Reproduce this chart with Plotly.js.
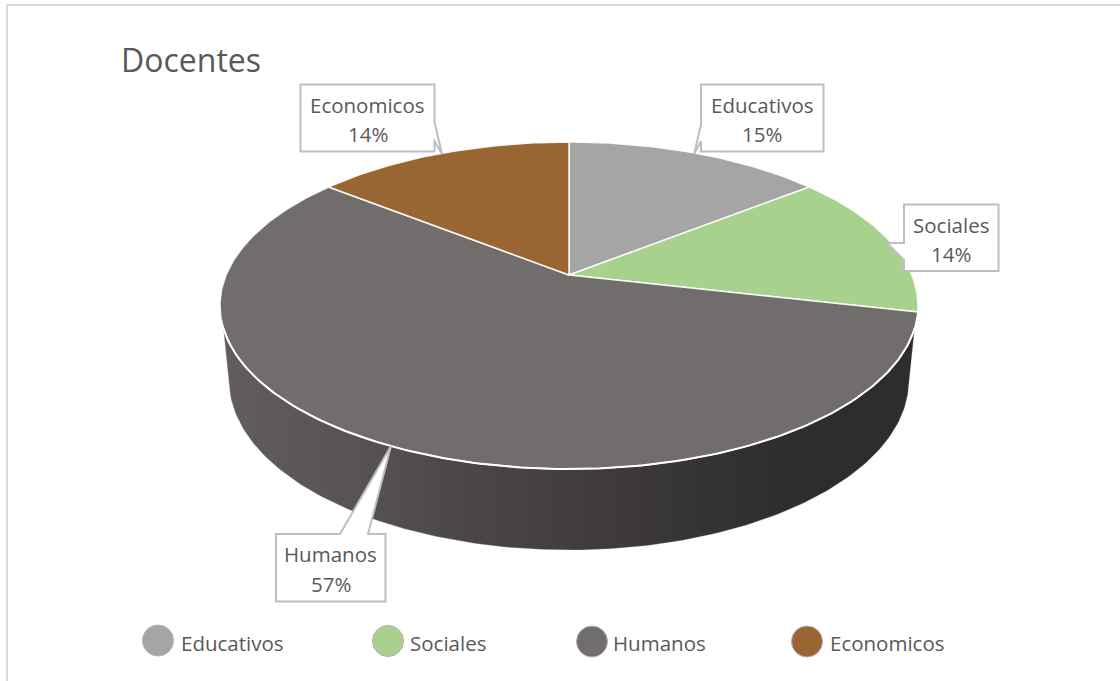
<!DOCTYPE html>
<html>
<head>
<meta charset="utf-8">
<script src="https://cdn.plot.ly/plotly-3.0.1.min.js"></script>
<style>html,body{margin:0;padding:0;background:#fff}#chart{width:1120px;height:681px}</style>
</head>
<body>
<div id="chart"></div>
<script>
// Data
const categories = ["Educativos", "Sociales", "Humanos", "Economicos"];
const values = [14.3, 14.3, 57.1, 14.3];
const percentLabels = ["15%", "14%", "57%", "14%"];
const sliceColors = ["#A5A5A5", "#A9D18E", "#716D6C", "#996633"];
const chartTitle = "Docentes";

// Layout: axes are in page pixels, y downwards
const FONT = "'Open Sans','Noto Sans',sans-serif";
const TEXT = "#595959";
const CX = 569, APEX_Y = 275;            // projected pie centre
const BACK = 133, FRONT = 194, HALF_W = 349; // projected radii of the top face
const PERSP = (FRONT - BACK) / (FRONT + BACK);
const AMP_Y = BACK * (1 + PERSP);
const AMP_X = HALF_W * Math.sqrt(1 - PERSP * PERSP);

function project(turn) {           // turn: share of the circle clockwise from 12 o'clock
  const a = turn * 2 * Math.PI, u = Math.sin(a), v = Math.cos(a), d = 1 + PERSP * v;
  return [CX + AMP_X * u / d, APEX_Y - AMP_Y * v / d];
}

// Side wall: from the top face rim down to the bottom rim
const TOP_CY = APEX_Y + (FRONT - BACK) / 2, TOP_RY = (FRONT + BACK) / 2;
const LOW_CY = 380, LOW_RY = 170, LOW_RX = 340;
function ell(cx, cy, rx, ry, deg) {
  const t = deg * Math.PI / 180;
  return [cx + rx * Math.cos(t), cy + ry * Math.sin(t)];
}
const wallX = [], wallY = [], rimX = [], rimY = [];
for (let d = 172; d >= 8; d -= 1) { const p = ell(CX, TOP_CY, HALF_W, TOP_RY, d); wallX.push(p[0]); wallY.push(p[1]); rimX.push(p[0]); rimY.push(p[1]); }
for (let d = 5; d <= 175; d += 1) { const p = ell(CX, LOW_CY, LOW_RX, LOW_RY, d); wallX.push(p[0]); wallY.push(p[1]); }
wallX.push(wallX[0]); wallY.push(wallY[0]);

const traces = [{
  type: "scatter", mode: "lines", x: wallX, y: wallY, fill: "toself",
  line: {color: "rgba(190,190,190,0.5)", width: 0.6},
  fillgradient: {type: "horizontal", colorscale: [
    [0, "#625D5C"], [0.2, "#585352"], [0.33, "#4B4847"], [0.52, "#403D3C"], [0.7, "#353232"], [0.83, "#2E2C2C"], [1, "#2E2C2C"]
  ]},
  hoverinfo: "skip", showlegend: false
}];

// Top-face slices, computed from the values
const total = values.reduce((a, b) => a + b, 0);
let acc = 0;
categories.forEach((name, i) => {
  const start = acc / total, end = (acc + values[i]) / total;
  const xs = [CX], ys = [APEX_Y];
  const steps = Math.max(8, Math.round((end - start) * 360));
  for (let s = 0; s <= steps; s++) {
    const p = project(start + (end - start) * s / steps);
    xs.push(p[0]); ys.push(p[1]);
  }
  xs.push(CX); ys.push(APEX_Y);
  traces.push({
    type: "scatter", mode: "lines", x: xs, y: ys, fill: "toself", fillcolor: sliceColors[i],
    line: {color: "rgba(255,255,255,0.9)", width: 1.5},
    name: name, text: percentLabels[i], hoverinfo: "name+text", showlegend: false
  });
  acc += values[i];
});

// White rim between top face and wall
traces.push({type: "scatter", mode: "lines", x: rimX, y: rimY, line: {color: "#FFFFFF", width: 2}, hoverinfo: "skip", showlegend: false});

// Legend swatches
const legendX = [158, 388, 592, 807];
const legendTextX = [181, 410, 613, 830];
const legendSize = [31, 31, 31, 31];
const legendY = [640.5, 641, 641.5, 641.5];
categories.forEach((name, i) => {
  traces.push({
    type: "scatter", mode: "markers", x: [legendX[i]], y: [legendY[i]], name: name,
    marker: {size: legendSize[i], color: sliceColors[i], line: {color: "#B0B0B0", width: 1}},
    hoverinfo: "name", showlegend: false
  });
});

// Callout boxes and their pointers
const box = [
  {l: 701, t: 84.5, r: 823.5, b: 151.5, ptr: "M701,125 L694,154 L701,141"},
  {l: 904, t: 204.5, r: 998.5, b: 271, ptr: "M904,243 L887,243 L904,260"},
  {l: 276, t: 534, r: 385.5, b: 601.5, ptr: "M340,534 L391,446 L368,534"},
  {l: 300.5, t: 84.5, r: 434.5, b: 151.5, ptr: "M434.5,122 L442,154 L434.5,141"}
];
const shapes = [
  {type: "line", xref: "x", yref: "y", x0: 7, y0: 5, x1: 1120, y1: 5, line: {color: "#D9D9D9", width: 2}, layer: "below"},
  {type: "line", xref: "x", yref: "y", x0: 7, y0: 5, x1: 7, y1: 681, line: {color: "#D9D9D9", width: 2}, layer: "below"}
];
const annotations = [];
box.forEach((b, i) => {
  const ptr = b.ptr.match(/[-\d.]+/g).map(Number);
  let path;
  if (i === 0) path = `M${b.l},${b.t} L${b.r},${b.t} L${b.r},${b.b} L${ptr[4]},${b.b} L${ptr[4]},${ptr[5]} L${ptr[2]},${ptr[3]} L${ptr[0]},${ptr[1]} Z`;
  if (i === 1) path = `M${b.l},${b.t} L${b.r},${b.t} L${b.r},${b.b} L${b.l},${b.b} L${ptr[4]},${ptr[5]} L${ptr[2]},${ptr[3]} L${ptr[0]},${ptr[1]} Z`;
  if (i === 2) path = `M${b.l},${b.t} L${ptr[0]},${ptr[1]} L${ptr[2]},${ptr[3]} L${ptr[4]},${ptr[5]} L${b.r},${b.t} L${b.r},${b.b} L${b.l},${b.b} Z`;
  if (i === 3) path = `M${b.l},${b.t} L${b.r},${b.t} L${ptr[0]},${ptr[1]} L${ptr[2]},${ptr[3]} L${ptr[4]},${ptr[5]} L${b.r},${b.b} L${b.l},${b.b} Z`;
  shapes.push({type: "path", xref: "x", yref: "y", path: path, fillcolor: "#FFFFFF", line: {color: "#BFBFBF", width: 2}, layer: "above"});
  [categories[i], percentLabels[i]].forEach((line, k) => {
    annotations.push({
      xref: "x", yref: "y", x: (b.l + b.r) / 2, y: b.t + 20 + k * 29.5, xanchor: "center", yanchor: "middle",
      showarrow: false, align: "center", text: line,
      font: {family: FONT, size: 20.5, color: TEXT}
    });
  });
  annotations.push({
    xref: "x", yref: "y", x: legendTextX[i], y: 643, xanchor: "left", yanchor: "middle",
    showarrow: false, text: categories[i], font: {family: FONT, size: 20.5, color: TEXT}, xshift: -2
  });
});
annotations.push({
  xref: "x", yref: "y", x: 121, y: 59, xanchor: "left", yanchor: "middle", showarrow: false,
  text: chartTitle, font: {family: FONT, size: 32, color: TEXT}, xshift: -2
});

Plotly.newPlot("chart", traces, {
  width: 1120, height: 681, margin: {l: 0, r: 0, t: 0, b: 0},
  paper_bgcolor: "#FFFFFF", plot_bgcolor: "#FFFFFF", showlegend: false,
  xaxis: {range: [0, 1120], visible: false, fixedrange: true},
  yaxis: {range: [681, 0], visible: false, fixedrange: true},
  shapes: shapes, annotations: annotations
}, {displayModeBar: false});
</script>
</body>
</html>
